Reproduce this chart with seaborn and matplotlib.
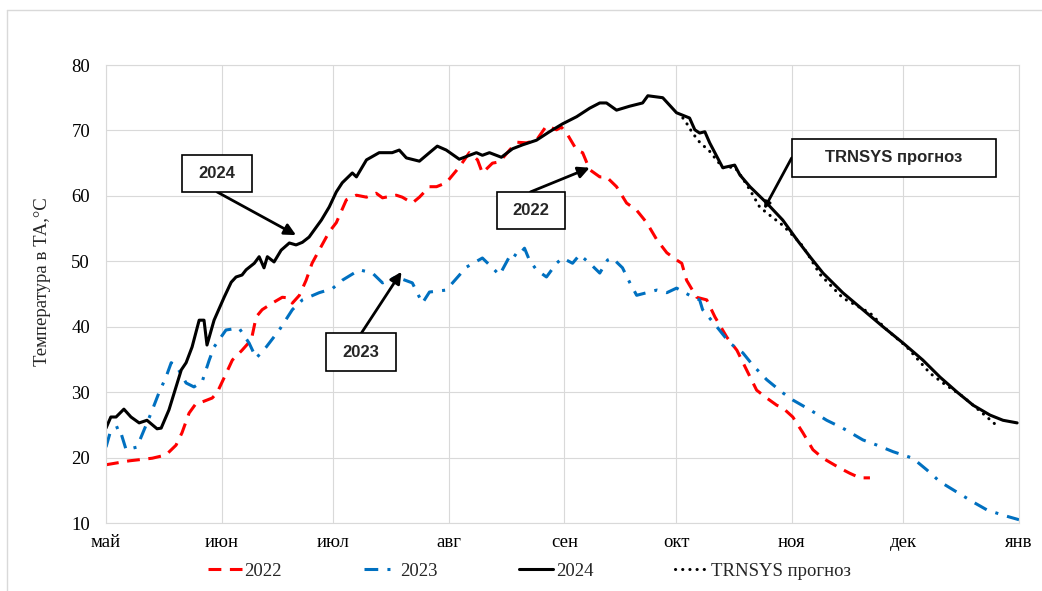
import matplotlib
matplotlib.use("Agg")
import matplotlib.pyplot as plt
from matplotlib.patches import Rectangle
from matplotlib.lines import Line2D
import seaborn as sns
import pandas as pd

# ---------------- data (day offset from 1 May, temperature °C) ----------------
month_labels = ['май', 'июн', 'июл', 'авг', 'сен', 'окт', 'ноя', 'дек', 'янв']

d2022 = [0, 6.2, 12.4, 16.1, 18.8, 20.4, 22.3, 24.2, 25.8, 28.5, 29.8, 31.7, 33.9, 36.5, 39,
         40.3, 41.9, 44.6, 47.3, 49.2, 50, 51.9, 53.7, 55.3, 57.2, 59.9, 61.8, 64.5, 67.2, 69.9,
         72.5, 74.2, 77.9, 79.5, 82.2, 84.1, 86.8, 88.7, 91.3, 94.8, 97.5, 99.7, 101, 103.7, 105.6,
         108.3, 110.2, 112.8, 115.5, 118.2, 120.9, 122.2, 123.6, 126.3, 127.9, 129.8, 132.5, 134.3,
         137, 139.7, 142.4, 145.1, 147.8, 150.5, 153.1, 154.5, 155.8, 158.5, 161.2, 163.4, 166.6,
         169.3, 171.9, 174.6, 177.3, 180, 181.6, 184.3, 187, 189.7, 192.4, 196.9, 199.6, 202.3, 205]
t2022 = [18.9, 19.5, 19.9, 20.4, 21.9, 23.8, 26.8, 28.3, 28.5, 29.1, 29.9, 32.2, 34.9, 36.4, 38.0,
         41.5, 42.6, 43.6, 44.5, 44.4, 43.6, 44.8, 47.1, 49.7, 51.7, 54.5, 55.9, 59.4, 60.1, 59.8,
         60.4, 59.7, 60.1, 59.8, 58.9, 59.8, 61.4, 61.4, 62.0, 64.4, 66.6, 65.5, 63.5, 65.0, 65.2,
         67.0, 68.2, 68.1, 68.5, 70.7, 70.1, 70.5, 69.6, 67.0, 66.6, 64.0, 62.9, 62.9, 61.4, 58.9,
         57.8, 55.9, 53.3, 51.3, 50.2, 49.7, 47.1, 44.5, 44.1, 41.5, 38.4, 36.4, 33.4, 30.3, 29.1,
         28.0, 27.6, 26.2, 23.8, 21.2, 19.9, 18.4, 17.6, 16.9, 16.9]

d2023 = [0, 1.3, 3.5, 5.4, 8.3, 12.1, 14.2, 16.1, 17.5, 19.1, 21.5, 23.6, 25.8, 27.7, 29, 32.2,
         35.7, 38.4, 40.3, 43, 46.5, 50, 52.7, 57.2, 60.7, 63.4, 68, 71.5, 74.2, 77.9, 82.2, 84.9,
         86.8, 91.3, 96.7, 101, 103.7, 105.6, 107.5, 108.8, 110.4, 112.3, 113.6, 115.5, 118.2,
         120.9, 122.5, 125.2, 127.1, 129.8, 132.5, 134.6, 135.9, 138.6, 140.5, 142.4, 145.1,
         147.8, 150.5, 153.1, 156.6, 159.3, 160.1, 163.9, 167.4, 170.9, 173.6, 177.3, 181.6,
         184.3, 188.9, 193.4, 197.7, 203.1, 206.9, 211.2, 216.5, 220.3, 223.8, 228.4, 232.7,
         236.4, 240.7, 245]
t2023 = [21.6, 24.2, 24.7, 21.2, 21.6, 26.8, 29.9, 32.3, 34.5, 33.8, 31.4, 30.8, 31.6, 34.9, 36.9,
         39.5, 39.8, 37.5, 35.2, 36.9, 39.5, 42.6, 44.1, 45.2, 45.8, 47.1, 48.7, 48.2, 46.7, 47.6,
         46.7, 43.6, 45.3, 45.6, 49.1, 50.5, 49.0, 47.9, 49.9, 51.3, 50.7, 52.0, 50.2, 48.7, 47.6,
         49.7, 50.5, 49.7, 51.0, 49.7, 48.2, 50.2, 50.5, 49.0, 46.8, 44.8, 45.2, 45.6, 45.2, 45.9,
         44.8, 44.1, 42.6, 40.0, 37.5, 36.0, 34.1, 31.9, 29.9, 28.8, 27.3, 25.7, 24.5, 22.7, 21.9,
         20.9, 19.9, 18.1, 16.3, 14.7, 13.2, 12.0, 11.2, 10.5]

d2024 = [0, 1.3, 2.7, 4.8, 6.7, 8.9, 11, 13.7, 14.8, 16.9, 20.2, 21.5, 23.1, 25, 26.3, 27.1, 29,
         31.7, 33.6, 34.9, 36.5, 37.6, 39.8, 41.1, 42.4, 43.3, 45.1, 47, 49.2, 51, 52.7, 54.5,
         56.4, 57.8, 59.9, 61.8, 63.4, 66.1, 67.2, 69.9, 73.3, 76.8, 78.7, 80.6, 84.1, 86.8, 88.9,
         91.3, 94.8, 99.4, 101, 102.9, 106.1, 109.1, 111.8, 115.5, 119, 122.5, 126.3, 129.8,
         132.5, 134.3, 137, 140.5, 144, 145.4, 149.4, 153.1, 156.6, 158, 159.3, 160.7, 162,
         165.5, 168.7, 170.1, 172.8, 177.3, 181.6, 185.4, 188.9, 192.4, 197.7, 203.1, 208.5,
         213.9, 219.2, 223.8, 228.4, 232.7, 237.2, 240.7, 244.5]
t2024 = [24.5, 26.2, 26.2, 27.4, 26.2, 25.3, 25.7, 24.4, 24.5, 27.3, 33.4, 34.5, 36.9, 41.0, 41.0,
         37.2, 41.0, 44.5, 46.8, 47.6, 47.9, 48.7, 49.7, 50.7, 49.0, 50.7, 49.9, 51.7, 52.8, 52.5,
         52.9, 53.7, 55.2, 56.3, 58.3, 60.6, 62.0, 63.5, 62.9, 65.5, 66.6, 66.6, 67.0, 65.8, 65.3,
         66.6, 67.6, 67.0, 65.6, 66.6, 66.2, 66.6, 65.9, 67.2, 67.8, 68.5, 69.8, 71.0, 72.1, 73.4,
         74.2, 74.2, 73.1, 73.7, 74.2, 75.3, 75.0, 72.7, 71.9, 70.1, 69.6, 69.8, 68.1, 64.3, 64.7,
         63.2, 61.4, 58.9, 56.3, 53.3, 50.7, 48.2, 45.2, 42.6, 40.0, 37.5, 34.9, 32.3, 30.0, 28.0,
         26.5, 25.7, 25.3]

d_trn = [154.8, 155.8, 157.4, 159.3, 162, 165.5, 168.7, 170.6, 172.8, 175.4, 177.3, 181.6, 186.3,
         188.1, 191.6, 197.7, 205, 209.6, 214.9, 221.1, 224.6, 230, 236.4, 239.4]
t_trn = [71.9, 71.1, 69.6, 68.2, 66.8, 64.3, 64.4, 62.9, 60.9, 58.3, 57.4, 55.5, 52.8,
         51.3, 48.0, 44.4, 42.1, 39.5, 36.9, 32.9, 31.4, 29.3, 26.2, 24.7]

# ---------------- style ----------------
sns.set_style("white")
plt.rcParams['font.family'] = ['Liberation Serif', 'DejaVu Serif']
GRID = '#d9d9d9'
FS = 13.5

fig = plt.figure(figsize=(10.42, 5.91), dpi=100)
ax = fig.add_axes([106 / 1042, 1 - 523 / 591, 913 / 1042, 458 / 591])

start = pd.Timestamp('2024-05-01')
month_starts = pd.date_range('2024-05-01', '2025-01-01', freq='MS')
tick_days = [(m - start).days for m in month_starts]

lw = 2.2
sns.lineplot(x=d2022, y=t2022, ax=ax, color='#ff0000', lw=lw, estimator=None,
             linestyle=(0, (4.2, 2.8)), solid_joinstyle='round', label='2022')
sns.lineplot(x=d2023, y=t2023, ax=ax, color='#0070c0', lw=lw, estimator=None,
             linestyle=(0, (4.5, 3, 1, 3)), label='2023')
sns.lineplot(x=d_trn, y=t_trn, ax=ax, color='black', lw=lw, estimator=None,
             linestyle=(0, (0.05, 2.3)), dash_capstyle='round', label='TRNSYS прогноз')
sns.lineplot(x=d2024, y=t2024, ax=ax, color='black', lw=lw, estimator=None,
             linestyle='-', solid_joinstyle='round', label='2024')

lg = ax.get_legend()
if lg is not None:
    lg.remove()

ax.set_xlim(0, tick_days[-1])
ax.set_ylim(10, 80)
ax.set_xticks(tick_days)
ax.set_xticklabels(month_labels)
ax.set_yticks(range(10, 81, 10))
ax.grid(True, color=GRID, lw=0.8)
for s in ax.spines.values():
    s.set_color(GRID)
    s.set_linewidth(0.8)
ax.tick_params(axis='both', length=0, labelsize=FS, colors='black')
ax.tick_params(axis='y', pad=11.5)
ax.tick_params(axis='x', pad=8)
ax.set_xlabel('')
ax.set_ylabel('Температура в ТА,°С', fontsize=FS)
ax.yaxis.set_label_coords(-0.060, 0.528)

# ---------------- annotations ----------------
bold_font = dict(family=['Liberation Sans', 'DejaVu Sans'], weight='bold', fontsize=12)


def box(x0, x1, y0, y1, text):
    ax.add_patch(Rectangle((x0, y0), x1 - x0, y1 - y0, fc='white', ec='black',
                           lw=1.2, zorder=6, clip_on=False))
    ax.text((x0 + x1) / 2, (y0 + y1) / 2, text, ha='center', va='center', zorder=7, **bold_font)


def arrow(sx, sy, tx, ty, ms=17):
    ax.annotate('', xy=(tx, ty), xytext=(sx, sy), zorder=5,
                arrowprops=dict(arrowstyle='-|>', color='black', lw=2.0,
                                mutation_scale=ms, shrinkA=0, shrinkB=0))


arrow(29.8, 60.6, 51.0, 54.0)
box(20.4, 39.2, 60.6, 66.2, '2024')
arrow(113.9, 60.6, 129.8, 64.3)
box(104.8, 123.3, 54.9, 60.6, '2022')
arrow(68.5, 39.0, 79.3, 48.4)
box(59.1, 77.9, 33.2, 39.0, '2023')
arrow(184.0, 65.8, 176.6, 58.0, ms=9)
box(184.0, 238.9, 62.9, 68.7, 'TRNSYS прогноз')

# ---------------- legend ----------------
order = ['2022', '2023', '2024', 'TRNSYS прогноз']
handles = [
    Line2D([], [], color='#ff0000', lw=lw, linestyle=(0, (4.2, 2.8))),
    Line2D([], [], color='#0070c0', lw=lw, linestyle=(0, (4.5, 3, 1, 3))),
    Line2D([], [], color='black', lw=lw, linestyle='-'),
    Line2D([], [], color='black', lw=lw, linestyle=(0, (0.05, 2.3)), dash_capstyle='round'),
]
fig.legend(handles, order, loc='center left', bbox_to_anchor=(208 / 1042, 1 - 571 / 591),
           ncol=4, frameon=False, fontsize=FS, handlelength=1.8, handletextpad=0.15,
           columnspacing=4.35, borderpad=0, borderaxespad=0)

# outer frame
fig.add_artist(Line2D([7 / 1042, 7 / 1042], [0, 1 - 10 / 591], color=GRID, lw=1,
                      transform=fig.transFigure))
fig.add_artist(Line2D([7 / 1042, 1], [1 - 10 / 591, 1 - 10 / 591], color=GRID, lw=1,
                      transform=fig.transFigure))

fig.savefig('out.png', dpi=100)
